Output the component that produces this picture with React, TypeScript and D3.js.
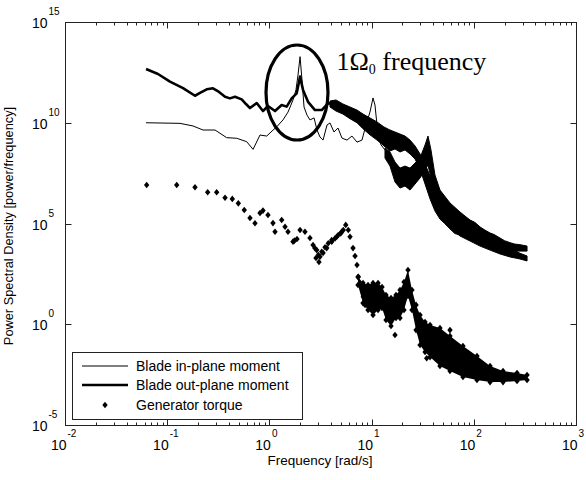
import React from 'react';
import * as d3 from 'd3';

const W = 586;
const H = 480;
const M = { left: 65, right: 576, top: 22, bottom: 425 };

// tick exponents (powers of ten)
const xTickExponents = [-2, -1, 0, 1, 2, 3];
const yTickExponents = [-5, 0, 5, 10, 15];

// Blade in-plane moment: [log10 freq (rad/s), log10 PSD]
const inPlaneLine: number[][] = [
  [-1.207, 10.0], [-0.875, 9.97], [-0.747, 9.84], [-0.65, 9.64], [-0.532, 9.64], [-0.418, 9.26],
  [-0.32, 9.23], [-0.222, 9.06], [-0.16, 8.68], [-0.092, 9.39], [-0.026, 9.34], [0.026, 9.59],
  [0.072, 9.8], [0.133, 10.14], [0.182, 10.53], [0.231, 11.13], [0.26, 11.63], [0.28, 12.37],
  [0.3, 13.28], [0.319, 12.12], [0.339, 10.78], [0.368, 10.38], [0.397, 10.14], [0.437, 10.24],
  [0.466, 9.64], [0.495, 9.29], [0.525, 9.14], [0.564, 9.89], [0.593, 9.99], [0.632, 9.54],
  [0.671, 9.74], [0.71, 9.24], [0.759, 9.14], [0.808, 9.34], [0.857, 9.04], [0.906, 9.14],
  [0.945, 9.89], [0.984, 10.53], [1.014, 11.23], [1.033, 10.88], [1.063, 9.39], [1.092, 8.9],
  [1.131, 8.65],
];
// noisy high-frequency part: [log10 freq, log10 PSD low, log10 PSD high]
const inPlaneBand: number[][] = [
  [1.131, 8.25, 8.75], [1.18, 7.85, 8.55], [1.229, 7.06, 8.05], [1.278, 6.76, 7.75],
  [1.327, 6.86, 7.85], [1.376, 6.66, 7.75], [1.425, 6.96, 8.0], [1.474, 7.26, 8.25],
  [1.523, 7.65, 8.9], [1.552, 7.9, 9.34], [1.581, 7.26, 8.65], [1.62, 6.27, 7.41],
  [1.669, 5.42, 6.66], [1.767, 4.78, 6.02], [1.865, 4.38, 5.57], [1.963, 4.13, 5.17],
  [2.061, 3.88, 4.78], [2.159, 3.68, 4.48], [2.256, 3.49, 4.18], [2.354, 3.34, 3.83],
  [2.452, 3.24, 3.52], [2.521, 3.14, 3.39],
];

// Blade out-plane moment
const outPlaneLine: number[][] = [
  [-1.207, 12.67], [-1.09, 12.42], [-0.973, 12.04], [-0.845, 11.72], [-0.728, 11.34], [-0.679, 11.48],
  [-0.613, 11.66], [-0.552, 11.71], [-0.493, 11.53], [-0.434, 11.29], [-0.386, 11.21], [-0.337, 11.29],
  [-0.271, 11.16], [-0.229, 10.93], [-0.19, 10.73], [-0.124, 10.98], [-0.063, 10.58], [-0.014, 10.83],
  [0.055, 10.58], [0.12, 10.88], [0.169, 10.8], [0.218, 11.21], [0.267, 11.46], [0.3, 12.29],
  [0.329, 11.63], [0.378, 11.04], [0.446, 10.63], [0.512, 10.63], [0.576, 10.97], [0.6, 10.95],
];
const outPlaneBand: number[][] = [
  [0.593, 10.78, 11.08], [0.652, 10.58, 11.13], [0.72, 10.43, 10.93], [0.789, 10.2, 10.78],
  [0.857, 10.0, 10.63], [0.916, 9.7, 10.43], [0.984, 9.4, 10.24], [1.053, 9.14, 10.04],
  [1.121, 8.85, 9.79], [1.18, 8.6, 9.64], [1.229, 8.7, 9.54], [1.278, 8.55, 9.44],
  [1.327, 8.65, 9.34], [1.376, 8.45, 9.14], [1.425, 8.2, 8.85], [1.474, 7.7, 8.45],
  [1.523, 6.96, 7.95], [1.572, 6.22, 7.36], [1.62, 5.62, 6.86], [1.669, 5.22, 6.46],
  [1.715, 5.0, 6.25], [1.767, 4.73, 5.87], [1.815, 4.5, 5.7], [1.865, 4.43, 5.47],
  [1.914, 4.35, 5.3], [1.963, 4.23, 5.17], [2.012, 4.1, 5.05], [2.061, 4.03, 4.83],
  [2.11, 3.95, 4.67], [2.159, 3.88, 4.53], [2.2, 3.83, 4.45], [2.256, 3.75, 4.28],
  [2.3, 3.7, 4.15], [2.354, 3.66, 4.05], [2.4, 3.64, 3.98], [2.452, 3.63, 3.95],
  [2.521, 3.63, 3.88],
];

// Generator torque: individual points [log10 freq, log10 PSD]
const torquePoints: number[][] = [
  [-1.201, 6.91], [-0.907, 6.91], [-0.728, 6.8], [-0.604, 6.55], [-0.516, 6.55], [-0.434, 6.28],
  [-0.363, 6.22], [-0.304, 6.0], [-0.246, 5.67], [-0.19, 5.27], [-0.141, 5.01], [-0.092, 5.52],
  [-0.063, 5.64], [-0.014, 5.42], [0.035, 5.02], [0.055, 4.59], [0.12, 5.17], [0.153, 4.84],
  [0.182, 4.59], [0.231, 4.1], [0.245, 4.15], [0.27, 4.23], [0.3, 4.68], [0.348, 4.59],
  [0.397, 4.28], [0.427, 3.93], [0.446, 3.77], [0.456, 3.29], [0.463, 3.68], [0.479, 3.44],
  [0.485, 3.09], [0.495, 3.35], [0.512, 3.6], [0.525, 3.54], [0.544, 3.82], [0.561, 3.78],
  [0.576, 4.02], [0.61, 4.1], [0.61, 4.18], [0.642, 4.26], [0.659, 4.34], [0.674, 4.43],
  [0.698, 4.51], [0.708, 4.59], [0.723, 4.68], [0.747, 4.93], [0.772, 4.68], [0.789, 4.34],
  [0.818, 3.78], [0.838, 3.39], [0.857, 2.94], [0.87, 2.36], [0.903, 1.86], [0.919, 1.37],
  [0.936, 0.96], [1.229, -0.53], [1.539, -1.69], [1.767, -0.29],
];
// dense high-frequency cloud: [log10 freq, log10 PSD low, log10 PSD high]
const torqueBand: number[][] = [
  [0.867, 1.95, 2.34], [0.916, 1.05, 2.05], [0.965, 0.71, 1.95], [1.014, 0.46, 2.05],
  [1.063, 0.71, 2.05], [1.102, 0.81, 1.85], [1.141, 0.21, 1.45], [1.19, -0.09, 1.3],
  [1.239, 0.31, 1.45], [1.278, 0.31, 1.7], [1.317, 0.71, 2.1], [1.356, 1.4, 2.69],
  [1.395, 0.71, 1.7], [1.435, -0.29, 0.96], [1.474, -1.03, 0.46], [1.523, -1.38, 0.11],
  [1.572, -1.63, -0.04], [1.669, -2.07, -0.19], [1.767, -2.32, -0.58], [1.894, -2.62, -1.08],
  [2.031, -2.77, -1.58], [2.159, -2.87, -2.07], [2.286, -2.87, -2.32], [2.423, -2.82, -2.42],
  [2.521, -2.77, -2.52],
];

const legendItems = ['Blade in-plane moment', 'Blade out-plane moment', 'Generator torque'];

const SANS = '"Liberation Sans", Arial, sans-serif';
const SERIF = '"Liberation Serif", "Times New Roman", serif';
const DIAMOND = 'M0,-3.3L2.7,0L0,3.3L-2.7,0Z';

export default function App() {
  const x = d3.scaleLog().domain([1e-2, 1e3]).range([M.left, M.right]);
  const y = d3.scaleLog().domain([1e-5, 1e15]).range([M.bottom, M.top]);
  const px = (lf: number) => x(Math.pow(10, lf));
  const py = (lp: number) => y(Math.pow(10, lp));

  const line = d3.line<number[]>().x(d => px(d[0])).y(d => py(d[1]));
  const area = d3
    .area<number[]>()
    .x(d => px(d[0]))
    .y0(d => py(d[1]))
    .y1(d => py(d[2]));

  const xTicks = x.ticks();
  const isMajor = (v: number) => Math.abs(Math.log10(v) - Math.round(Math.log10(v))) < 1e-6;

  const legend = { x0: 72, y0: 352, x1: 302, y1: 419 };
  const rows = [366, 385, 405];

  return (
    <svg
      width={W}
      height={H}
      style={{ position: 'absolute', left: 0, top: 0, background: '#fff' }}
      fontFamily={SANS}
    >
      <rect x={0} y={0} width={W} height={H} fill="#fff" />

      {/* generator torque */}
      <g fill="#000">
        <path d={area(torqueBand) || ''} />
        {torqueBand.map((d, i) => (
          <g key={'tb' + i}>
            <path d={DIAMOND} transform={`translate(${px(d[0])},${py(d[1])})`} />
            <path d={DIAMOND} transform={`translate(${px(d[0])},${py(d[2])})`} />
          </g>
        ))}
        {torquePoints.map((d, i) => (
          <path key={'tp' + i} d={DIAMOND} transform={`translate(${px(d[0])},${py(d[1])})`} />
        ))}
      </g>

      {/* in-plane moment (thin) */}
      <path d={line(inPlaneLine) || ''} fill="none" stroke="#000" strokeWidth={1} strokeLinejoin="round" />
      <path d={area(inPlaneBand) || ''} fill="#000" stroke="#000" strokeWidth={1} />

      {/* out-plane moment (thick) */}
      <path d={line(outPlaneLine) || ''} fill="none" stroke="#000" strokeWidth={2.6} strokeLinejoin="round" />
      <path d={area(outPlaneBand) || ''} fill="#000" stroke="#000" strokeWidth={1} />

      {/* annotation */}
      <ellipse cx={297} cy={92.5} rx={31} ry={47.5} fill="none" stroke="#000" strokeWidth={3.2} />
      <text x={336.5} y={70} fontFamily={SERIF} fontSize={26} fill="#000">
        1Ω
        <tspan fontSize={14} dy={4}>0</tspan>
        <tspan dy={-4}> frequency</tspan>
      </text>

      {/* axes box */}
      <rect
        x={M.left + 0.5}
        y={M.top + 0.5}
        width={M.right - M.left}
        height={M.bottom - M.top}
        fill="none"
        stroke="#222"
        strokeWidth={1}
      />
      {/* ticks */}
      <g stroke="#222" strokeWidth={1}>
        {xTicks.map((t, i) => {
          const xx = Math.round(x(t)) + 0.5;
          const len = isMajor(t) ? 6 : 3;
          return (
            <g key={'xt' + i}>
              <line x1={xx} x2={xx} y1={M.bottom + 0.5} y2={M.bottom + 0.5 - len} />
              <line x1={xx} x2={xx} y1={M.top + 0.5} y2={M.top + 0.5 + len} />
            </g>
          );
        })}
        {yTickExponents.map((e, i) => {
          const yy = Math.round(y(Math.pow(10, e))) + 0.5;
          return (
            <g key={'yt' + i}>
              <line x1={M.left + 0.5} x2={M.left + 6.5} y1={yy} y2={yy} />
              <line x1={M.right + 0.5} x2={M.right - 5.5} y1={yy} y2={yy} />
            </g>
          );
        })}
      </g>
      {/* tick labels */}
      <g fill="#000">
        {xTickExponents.map(e => {
          const xx = x(Math.pow(10, e));
          return (
            <g key={'xl' + e}>
              <text x={xx + 1.5} y={450} fontSize={14} textAnchor="end">10</text>
              <text x={xx + 2.5} y={437} fontSize={10} textAnchor="start">{e < 0 ? '-' + Math.abs(e) : String(e)}</text>
            </g>
          );
        })}
        {yTickExponents.map(e => {
          const yy = y(Math.pow(10, e));
          return (
            <g key={'yl' + e}>
              <text x={47.5} y={yy + 6} fontSize={14} textAnchor="end">10</text>
              <text x={48.5} y={yy - 7} fontSize={10} textAnchor="start">{e < 0 ? '-' + Math.abs(e) : String(e)}</text>
            </g>
          );
        })}
      </g>

      {/* axis titles */}
      <text x={320} y={465} fontSize={13.5} textAnchor="middle" fill="#000">Frequency [rad/s]</text>
      <text
        transform="translate(13,226) rotate(-90)"
        fontSize={12.8}
        textAnchor="middle"
        fill="#000"
      >
        Power Spectral Density [power/frequency]
      </text>

      {/* legend */}
      <rect
        x={legend.x0 + 0.5}
        y={legend.y0 + 0.5}
        width={legend.x1 - legend.x0}
        height={legend.y1 - legend.y0}
        fill="#fff"
        stroke="#222"
        strokeWidth={1}
      />
      <line x1={82} x2={128} y1={rows[0]} y2={rows[0]} stroke="#000" strokeWidth={1} />
      <line x1={82} x2={128} y1={rows[1]} y2={rows[1]} stroke="#000" strokeWidth={2.6} />
      <path d={DIAMOND} transform={`translate(105,${rows[2]})`} fill="#000" />
      {legendItems.map((t, i) => (
        <text key={'lg' + i} x={136} y={rows[i] + 5} fontSize={14} fill="#000">
          {t}
        </text>
      ))}
    </svg>
  );
}
